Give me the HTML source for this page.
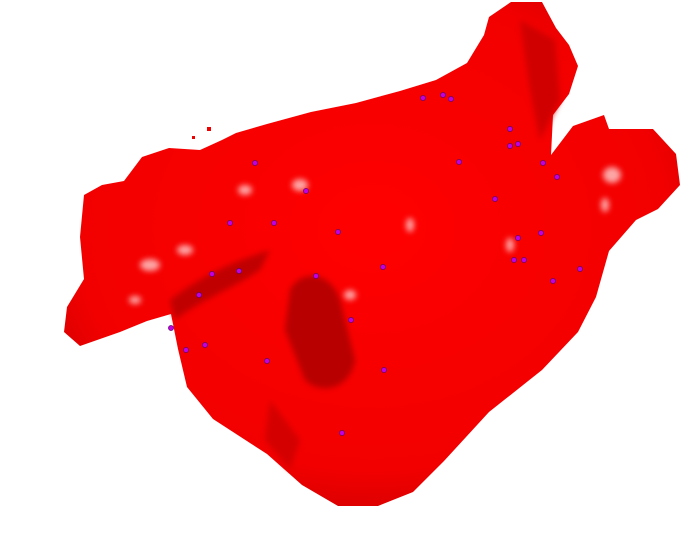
<!DOCTYPE html>
<html><head><meta charset="utf-8"><style>html,body{margin:0;padding:0;background:#fff}svg{display:block}</style></head>
<body>
<svg width="689" height="541" viewBox="0 0 689 541">
<defs>
<radialGradient id="g" cx="0.5" cy="0.45" r="0.6"><stop offset="0" stop-color="#ff0000"/><stop offset="0.8" stop-color="#f20000"/><stop offset="1" stop-color="#d00000"/></radialGradient>
<filter id="b"><feGaussianBlur stdDeviation="3"/></filter>
</defs>
<path fill="url(#g)" d="M236,133 L267,124 311,112 356,103 400,91 436,80 467,63 484,35 489,17 511,2 542,2 556,28 569,45 578,66 569,94 553,115 551,155 573,126 604,115 609,129 653,129 676,154 680,185 658,209 636,220 609,251 596,297 578,332 542,370 489,412 444,461 413,492 378,506 338,506 302,485 267,454 213,419 187,387 178,349 171,314 147,321 120,332 80,346 64,332 67,307 84,279 80,237 84,195 102,185 124,181 142,157 169,148 200,150 222,140 Z"/>
<rect x="207" y="127" width="4" height="4" fill="#e00"/>
<rect x="192" y="136" width="3" height="3" fill="#e00"/>
<g filter="url(#b)">
<path d="M290,290 C300,270 330,270 340,300 L355,360 C350,390 320,395 305,380 L285,330 Z" fill="#b80000"/>
<path d="M170,300 C210,270 240,260 270,250 L260,270 C230,290 200,300 175,320 Z" fill="#c00000"/>
<path d="M520,20 L555,40 560,100 540,140 530,90 Z" fill="#d00000"/>
<path d="M270,400 L300,440 290,470 265,440 Z" fill="#d40000"/>
</g>
<g filter="url(#b)" fill="#ffd0d0" opacity="0.8">
<ellipse cx="150" cy="265" rx="10" ry="6"/><ellipse cx="185" cy="250" rx="8" ry="5"/>
<ellipse cx="245" cy="190" rx="7" ry="5"/><ellipse cx="300" cy="185" rx="8" ry="6"/>
<ellipse cx="410" cy="225" rx="4" ry="7"/><ellipse cx="612" cy="175" rx="9" ry="8"/>
<ellipse cx="510" cy="245" rx="4" ry="7"/><ellipse cx="605" cy="205" rx="4" ry="7"/>
<ellipse cx="135" cy="300" rx="6" ry="4"/><ellipse cx="350" cy="295" rx="6" ry="5"/>
</g>
<g id="dots"></g>
</svg>
<script>
const px=[423,443,451,510,510,518,459,543,557,255,306,495,230,274,338,518,541,383,514,524,580,553,212,239,316,199,351,171,186,205,267,384,342];
const py=[98,95,99,129,146,144,162,163,177,163,191,199,223,223,232,238,233,267,260,260,269,281,274,271,276,295,320,328,350,345,361,370,433];
const g=document.getElementById('dots');
for(let i=0;i<px.length;i++){
 const c=document.createElementNS('http://www.w3.org/2000/svg','circle');
 
 
 c.setAttribute('cx',px[i]);c.setAttribute('cy',py[i]);c.setAttribute('r',2.6);
 c.setAttribute('fill','#c000e0');c.setAttribute('stroke','#500060');c.setAttribute('stroke-width','0.6');
 g.appendChild(c);
}
</script>
</body></html>
